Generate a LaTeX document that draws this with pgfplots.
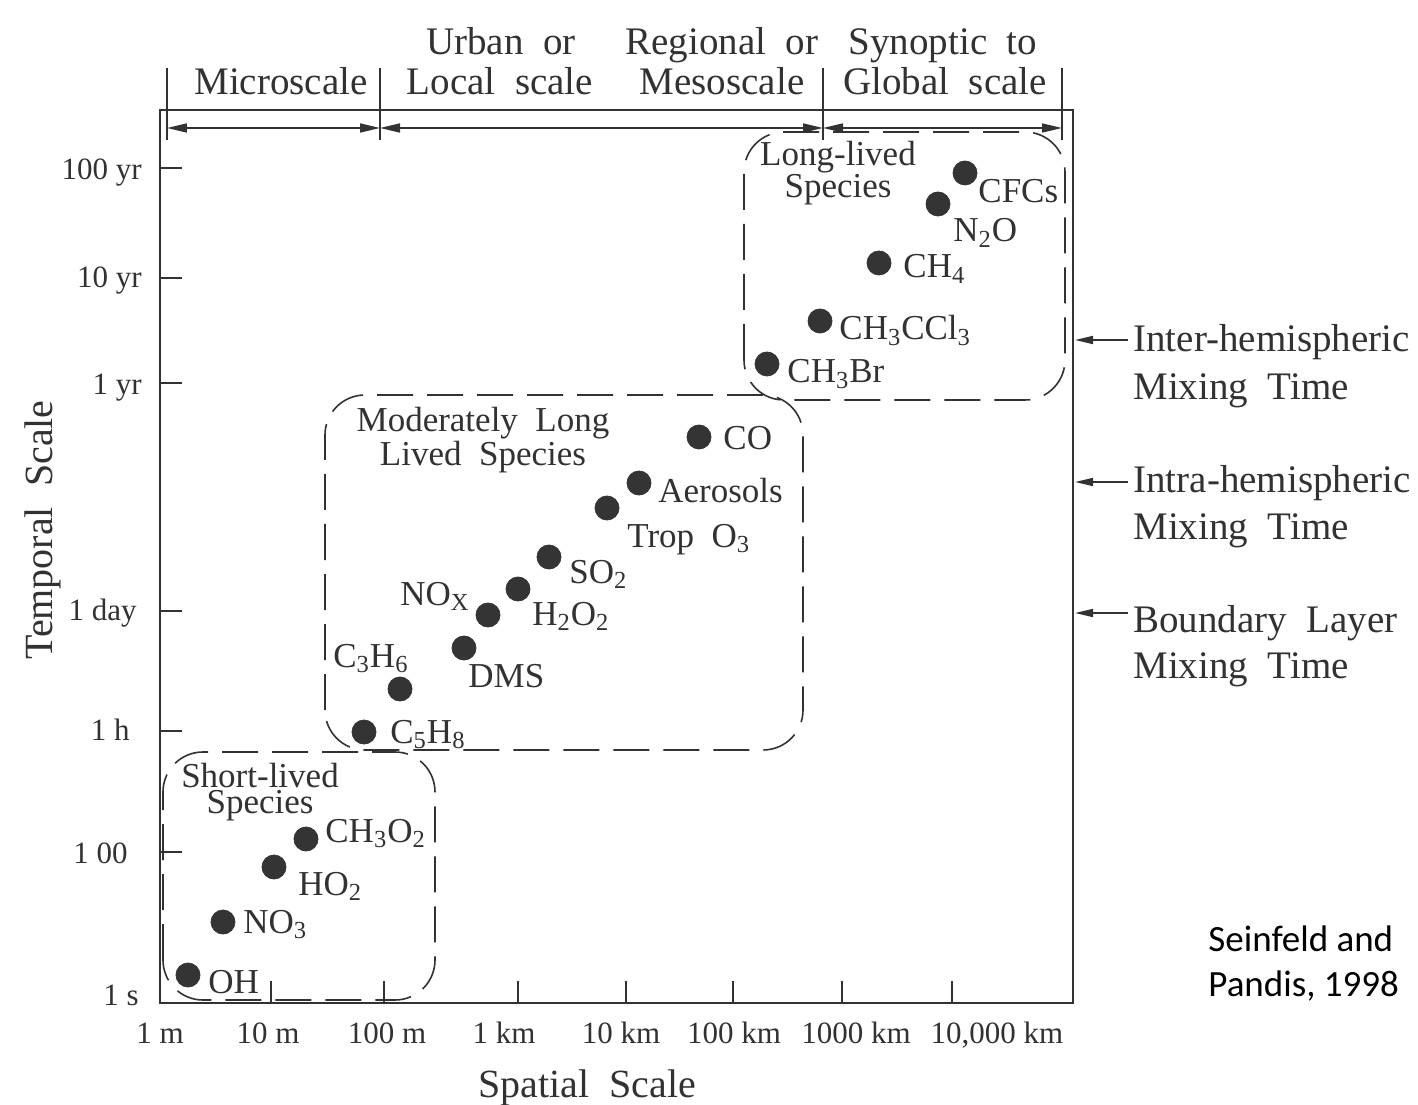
\documentclass[border=0pt]{standalone}
\usepackage{fontspec}
\setmainfont{Liberation Serif}
\newfontfamily\creditfont{Carlito}
\usepackage{pgfplots}
\usepackage{pgfplotstable}
\pgfplotsset{compat=1.18}
\usetikzlibrary{arrows.meta}

\definecolor{ink}{RGB}{50,50,50}
\definecolor{dot}{RGB}{52,52,52}

% Species positions on the (hand-drawn) spatial / temporal scale
\pgfplotstableread{
x   y
805 830
778 799
719 740
660 682
607 639
539 566
479 520
447 495
389 446
358 414
328 388
304 355
240 314
204 271
146 164
114 136
63  81
28  28
}\species

\tikzset{
  lab/.style={anchor=base west, inner sep=0pt, text=ink, font=\fontsize{17.5}{20}\selectfont},
  ttl/.style={anchor=base, inner sep=0pt, text=ink, align=center},
  big/.style={inner sep=0pt, text=ink, font=\fontsize{19.5}{22}\selectfont},
  tck/.style={inner sep=0pt, text=ink, font=\fontsize{15.5}{18}\selectfont},
  box/.style={ink, line width=0.8pt, dash pattern=on 18pt off 7pt, rounded corners=20pt},
  bar/.style={ink, line width=0.8pt},
  span/.style={bar, >={Triangle[length=10pt,width=4.5pt]}, <->},
  point/.style={bar, >={Triangle[length=9pt,width=4pt]}, ->},
}

\begin{document}
\begin{tikzpicture}
\path[use as bounding box, fill=white] (-80pt,-50.5pt) rectangle (629pt,501.5pt);
\begin{axis}[
  scale only axis, width=456.5pt, height=446.5pt,
  xmin=0, xmax=913, ymin=0, ymax=893,
  clip=false,
  axis line style={ink, line width=1pt},
  xtick={111,224,358,466,573,682,792},
  ytick={151,272,392,620,725,835},
  xticklabels={}, yticklabels={},
  tick pos=left, tick align=inside,
  major tick length=11pt,
  tick style={ink, line width=0.8pt},
]
\addplot[only marks, mark=*, mark size=6pt, dot, mark options={draw=dot, fill=dot}] table {\species};

% species groups (titles anchored on the baseline of their last line)
\draw[box] (axis cs:584,603) rectangle (axis cs:905,871);
\draw[box] (axis cs:165,253) rectangle (axis cs:643,608);
\draw[box] (axis cs:3,3) rectangle (axis cs:275,251);

\node[ttl, font=\fontsize{17.5}{15}\selectfont] at (axis cs:678,805) {Long-lived\\Species};
\node[ttl, font=\fontsize{17.5}{15}\selectfont] at (axis cs:323,538) {Moderately\ \ Long\\Lived\ \ Species};
\node[ttl, font=\fontsize{17.5}{13}\selectfont] at (axis cs:100,190) {Short-lived\\Species};

% species names
\node[lab] at (axis cs:818,800) {CFCs};
\node[lab] at (axis cs:793,761) {N\textsubscript{2}O};
\node[lab] at (axis cs:743,725) {CH\textsubscript{4}};
\node[lab] at (axis cs:679,663) {CH\textsubscript{3}CCl\textsubscript{3}};
\node[lab] at (axis cs:627,620) {CH\textsubscript{3}Br};
\node[lab] at (axis cs:563,553) {CO};
\node[lab] at (axis cs:498,501) {Aerosols};
\node[lab] at (axis cs:467,456) {Trop\ \ O\textsubscript{3}};
\node[lab] at (axis cs:409,420) {SO\textsubscript{2}};
\node[lab] at (axis cs:372,378) {H\textsubscript{2}O\textsubscript{2}};
\node[lab] at (axis cs:240,398) {NO\textsubscript{X}};
\node[lab] at (axis cs:308,316) {DMS};
\node[lab] at (axis cs:173,336) {C\textsubscript{3}H\textsubscript{6}};
\node[lab] at (axis cs:230,260) {C\textsubscript{5}H\textsubscript{8}};
\node[lab] at (axis cs:165,161) {CH\textsubscript{3}O\textsubscript{2}};
\node[lab] at (axis cs:138,108) {HO\textsubscript{2}};
\node[lab] at (axis cs:83,70) {NO\textsubscript{3}};
\node[lab] at (axis cs:48,10) {OH};

% scale bar along the top
\draw[bar] (axis cs:7,863) -- (axis cs:7,935);
\draw[bar] (axis cs:220,863) -- (axis cs:220,935);
\draw[bar] (axis cs:663,863) -- (axis cs:663,935);
\draw[bar] (axis cs:902,863) -- (axis cs:902,935);
\draw[span] (axis cs:7,875) -- (axis cs:220,875);
\draw[span] (axis cs:220,875) -- (axis cs:663,875);
\draw[span] (axis cs:663,875) -- (axis cs:902,875);

\node[big, anchor=base] at (axis cs:121,908) {Microscale};
\node[big, anchor=base] at (axis cs:341,948) {Urban\ \ or};
\node[big, anchor=base] at (axis cs:340,908) {Local\ \ scale};
\node[big, anchor=base] at (axis cs:562,948) {Regional\ \ or};
\node[big, anchor=base] at (axis cs:562,908) {Mesoscale};
\node[big, anchor=base] at (axis cs:783,948) {Synoptic\ \ to};
\node[big, anchor=base] at (axis cs:785,908) {Global\ \ scale};

% mixing times on the right
\draw[point] (axis cs:968,663) -- (axis cs:915,663);
\draw[point] (axis cs:968,521) -- (axis cs:915,521);
\draw[point] (axis cs:968,390) -- (axis cs:915,390);
\node[big, anchor=base west] at (axis cs:973,651) {Inter-hemispheric};
\node[big, anchor=base west] at (axis cs:973,603) {Mixing\ \ Time};
\node[big, anchor=base west] at (axis cs:973,510) {Intra-hemispheric};
\node[big, anchor=base west] at (axis cs:973,464) {Mixing\ \ Time};
\node[big, anchor=base west] at (axis cs:973,371) {Boundary\ \ Layer};
\node[big, anchor=base west] at (axis cs:973,325) {Mixing\ \ Time};

% tick labels
\node[tck, anchor=base] at (axis cs:0,-40) {1 m};
\node[tck, anchor=base] at (axis cs:108,-40) {10 m};
\node[tck, anchor=base] at (axis cs:227,-40) {100 m};
\node[tck, anchor=base] at (axis cs:344,-40) {1 km};
\node[tck, anchor=base] at (axis cs:461,-40) {10 km};
\node[tck, anchor=base] at (axis cs:574,-40) {100 km};
\node[tck, anchor=base] at (axis cs:696,-40) {1000 km};
\node[tck, anchor=base] at (axis cs:837,-40) {10,000 km};

\node[tck, anchor=base east] at (axis cs:-18,823) {100 yr};
\node[tck, anchor=base east] at (axis cs:-18,715) {10 yr};
\node[tck, anchor=base east] at (axis cs:-18,608) {1 yr};
\node[tck, anchor=base east] at (axis cs:-23,383) {1 day};
\node[tck, anchor=base east] at (axis cs:-30,263) {1 h};
\node[tck, anchor=base east] at (axis cs:-32,140) {1 00};
\node[tck, anchor=base east] at (axis cs:-21,-2) {1 s};

% axis titles
\node[inner sep=0pt, text=ink, font=\fontsize{20}{24}\selectfont, anchor=base] at (axis cs:427,-94) {Spatial\ \ Scale};
\node[inner sep=0pt, text=ink, font=\fontsize{20}{24}\selectfont, anchor=base, rotate=90] at (axis cs:-107,473) {Temporal\ \ Scale};

% source
\node[inner sep=0pt, anchor=base west, font=\creditfont\fontsize{18.5}{22}\selectfont] at (axis cs:1048,52) {Seinfeld and};
\node[inner sep=0pt, anchor=base west, font=\creditfont\fontsize{18.5}{22}\selectfont] at (axis cs:1048,7) {Pandis, 1998};
\end{axis}
\end{tikzpicture}
\end{document}
